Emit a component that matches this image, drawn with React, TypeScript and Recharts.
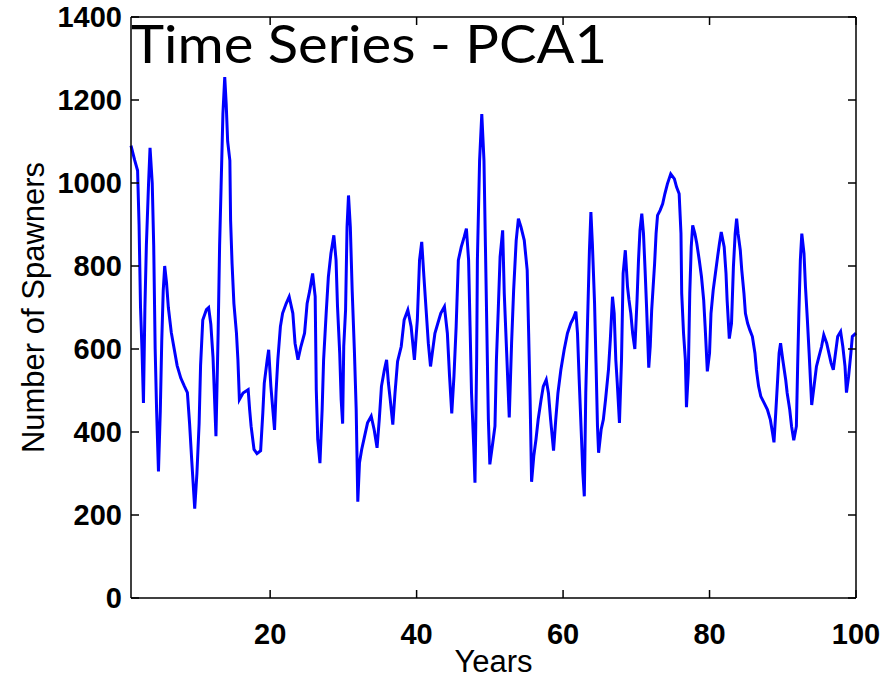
import { LineChart, Line, XAxis, YAxis } from 'recharts'

// years (x) and spawner counts (y)
const years = [
  1.0, 1.5, 1.9, 2.1, 2.3, 2.5, 2.7, 2.9, 3.1, 3.4, 3.6, 3.9, 4.1, 4.3, 4.5, 4.75, 5.0, 5.2, 5.4, 5.6,
  5.85, 6.1, 6.5, 6.9, 7.3, 7.8, 8.3, 8.7, 9.0, 9.3, 9.7, 10.0, 10.3, 10.5, 10.8, 11.3, 11.6, 11.9, 12.2, 12.6,
  12.9, 13.1, 13.3, 13.55, 13.8, 14.0, 14.2, 14.5, 14.6, 14.8, 15.05, 15.4, 15.6, 15.8, 16.3, 17.0, 17.2, 17.4, 17.8, 18.2,
  18.7, 19.0, 19.2, 19.6, 19.8, 20.1, 20.6, 20.8, 21.05, 21.4, 21.7, 22.2, 22.6, 23.1, 23.4, 23.8, 24.2, 24.7, 25.05, 25.4,
  25.8, 26.15, 26.3, 26.5, 26.8, 27.1, 27.3, 27.65, 27.95, 28.3, 28.7, 29.0, 29.2, 29.5, 29.7, 29.9, 30.05, 30.3, 30.5, 30.7,
  30.95, 31.2, 31.5, 31.75, 31.97, 32.2, 32.5, 32.9, 33.3, 33.8, 34.2, 34.6, 34.9, 35.2, 35.6, 35.9, 36.15, 36.4, 36.75, 37.05,
  37.4, 37.9, 38.3, 38.8, 39.25, 39.7, 40.1, 40.4, 40.7, 41.0, 41.3, 41.6, 41.9, 42.2, 42.5, 42.9, 43.3, 43.8, 44.2, 44.5,
  44.8, 45.1, 45.4, 45.7, 46.1, 46.5, 46.8, 47.1, 47.3, 47.5, 47.8, 47.97, 48.2, 48.3, 48.6, 48.9, 49.2, 49.4, 49.6, 49.8,
  50.0, 50.4, 50.7, 50.9, 51.15, 51.4, 51.75, 51.97, 52.3, 52.65, 52.97, 53.25, 53.6, 53.9, 54.25, 54.7, 55.1, 55.3, 55.5, 55.7,
  56.0, 56.3, 56.6, 57.0, 57.3, 57.7, 58.0, 58.3, 58.7, 59.0, 59.3, 59.7, 60.15, 60.6, 61.05, 61.4, 61.75, 61.97, 62.2, 62.45,
  62.7, 62.9, 63.1, 63.35, 63.6, 63.8, 64.0, 64.3, 64.5, 64.7, 64.85, 65.2, 65.5, 65.8, 66.2, 66.45, 66.75, 66.98, 67.2, 67.4,
  67.7, 67.98, 68.2, 68.5, 68.8, 69.0, 69.25, 69.5, 69.8, 70.1, 70.3, 70.5, 70.75, 70.98, 71.2, 71.4, 71.7, 71.9, 72.1, 72.3,
  72.5, 72.7, 72.9, 73.25, 73.6, 73.9, 74.25, 74.7, 75.2, 75.5, 75.85, 76.1, 76.2, 76.45, 76.7, 76.85, 77.1, 77.3, 77.5, 77.7,
  78.0, 78.26, 78.6, 78.9, 79.2, 79.4, 79.7, 80.0, 80.2, 80.5, 80.8, 81.1, 81.35, 81.6, 82.0, 82.25, 82.4, 82.7, 83.0, 83.26,
  83.5, 83.7, 83.9, 84.2, 84.4, 84.7, 84.9, 85.2, 85.5, 85.85, 86.2, 86.4, 86.7, 87.0, 87.45, 87.9, 88.3, 88.6, 88.8, 89.04,
  89.3, 89.5, 89.7, 90.0, 90.4, 90.6, 90.95, 91.2, 91.5, 91.86, 92.04, 92.2, 92.4, 92.6, 92.9, 93.1, 93.36, 93.6, 93.8, 93.95,
  94.27, 94.6, 94.95, 95.3, 95.6, 96.0, 96.3, 96.6, 96.9, 97.2, 97.5, 97.9, 98.2, 98.5, 98.7, 98.99, 99.3, 99.5, 100,
]

const spawners = [
  1090, 1055, 1030, 900, 700, 600, 470, 700, 850, 1000, 1085, 1000, 850, 600, 450, 305, 450, 620, 740, 800,
  760, 700, 640, 600, 560, 530, 510, 495, 420, 330, 215, 300, 420, 560, 670, 695, 700, 660, 580, 390,
  640, 850, 990, 1166, 1255, 1190, 1100, 1054, 910, 806, 710, 638, 574, 478, 494, 502, 454, 414, 358, 348,
  355, 446, 518, 574, 598, 510, 405, 494, 574, 654, 686, 710, 726, 686, 614, 574, 606, 638, 710, 740,
  782, 726, 502, 382, 325, 454, 574, 686, 774, 830, 874, 814, 702, 590, 478, 420, 606, 694, 894, 970,
  894, 742, 598, 454, 232, 326, 358, 390, 422, 438, 406, 362, 430, 510, 550, 574, 518, 478, 418, 494,
  570, 606, 670, 694, 654, 574, 670, 814, 858, 774, 694, 614, 558, 598, 638, 662, 686, 702, 638, 534,
  445, 534, 654, 814, 846, 870, 890, 814, 654, 494, 366, 278, 574, 814, 1054, 1166, 1054, 846, 638, 430,
  322, 374, 414, 574, 694, 822, 886, 734, 590, 435, 614, 742, 862, 914, 894, 862, 790, 638, 478, 280,
  342, 382, 430, 478, 510, 526, 494, 430, 355, 430, 494, 550, 598, 638, 662, 674, 690, 638, 526, 414,
  302, 245, 494, 670, 838, 930, 854, 710, 566, 414, 350, 406, 430, 478, 550, 622, 726, 686, 574, 518,
  422, 574, 782, 838, 750, 718, 686, 638, 600, 718, 814, 886, 926, 878, 790, 702, 555, 606, 694, 750,
  806, 878, 922, 934, 950, 974, 998, 1022, 1010, 990, 974, 878, 734, 638, 574, 460, 542, 734, 846, 898,
  878, 854, 814, 774, 718, 654, 546, 590, 686, 742, 782, 822, 854, 882, 846, 782, 718, 625, 662, 798,
  878, 914, 878, 838, 790, 734, 686, 662, 646, 630, 590, 550, 510, 486, 470, 454, 430, 398, 375, 446,
  526, 590, 614, 574, 526, 494, 454, 414, 380, 414, 566, 686, 814, 878, 830, 750, 670, 590, 518, 465,
  510, 558, 582, 606, 634, 614, 590, 566, 550, 590, 630, 642, 606, 558, 495, 534, 590, 630, 638,
]

const xTicks = [20, 40, 60, 80, 100]
const yTicks = [0, 200, 400, 600, 800, 1000, 1200, 1400]

const data = years.map((year, i) => ({ year, spawners: spawners[i] }))

const font = '"Liberation Sans", Arial, sans-serif'
const tickFont = { fontSize: 29, fontWeight: 'bold' as const, fontFamily: font, fill: '#000' }
const TICK = 8
const axisLine = { stroke: '#000', strokeWidth: 1.5 }

// MATLAB style: tick marks point into the plot box, labels sit outside
function LeftTick({ x, y, payload }: any) {
  return (
    <g>
      <line x1={x} y1={y} x2={x + TICK} y2={y} stroke="#000" strokeWidth={1.5} />
      <text x={x - 9} y={y} dy="0.36em" textAnchor="end" {...tickFont}>
        {payload.value}
      </text>
    </g>
  )
}

function BottomTick({ x, y, payload }: any) {
  return (
    <g>
      <line x1={x} y1={y} x2={x} y2={y - TICK} stroke="#000" strokeWidth={1.5} />
      <text x={x} y={y + 46} textAnchor="middle" {...tickFont}>
        {payload.value}
      </text>
    </g>
  )
}

function RightTick({ x, y }: any) {
  return <line x1={x} y1={y} x2={x - TICK} y2={y} stroke="#000" strokeWidth={1.5} />
}

function TopTick({ x, y }: any) {
  return <line x1={x} y1={y} x2={x} y2={y + TICK} stroke="#000" strokeWidth={1.5} />
}

export default function App() {
  return (
    <div style={{ position: 'absolute', left: 0, top: 0, width: 884, height: 679, background: '#fff' }}>
      <LineChart width={884} height={679} data={data} margin={{ top: 16, right: 27, bottom: 0, left: 0 }}>
        <XAxis
          dataKey="year"
          type="number"
          domain={[1, 100]}
          ticks={xTicks}
          height={81}
          tickSize={0}
          tickMargin={0}
          tickLine={false}
          axisLine={axisLine}
          tick={<BottomTick />}
          label={{
            value: 'Years',
            position: 'insideBottom',
            offset: 7,
            style: { fontSize: 31, fontFamily: font, fill: '#000' },
          }}
        />
        <XAxis
          xAxisId="top"
          dataKey="year"
          orientation="top"
          type="number"
          domain={[1, 100]}
          ticks={xTicks}
          height={1}
          tickSize={0}
          tickMargin={0}
          tickLine={false}
          axisLine={axisLine}
          tick={<TopTick />}
        />
        <YAxis
          type="number"
          domain={[0, 1400]}
          ticks={yTicks}
          width={131}
          tickSize={0}
          tickMargin={0}
          tickLine={false}
          axisLine={axisLine}
          tick={<LeftTick />}
          label={{
            value: 'Number of Spawners',
            angle: -90,
            position: 'insideLeft',
            offset: 33,
            style: { textAnchor: 'middle', fontSize: 31, fontFamily: font, fill: '#000' },
          }}
        />
        <YAxis
          yAxisId="right"
          orientation="right"
          type="number"
          domain={[0, 1400]}
          ticks={yTicks}
          width={1}
          tickSize={0}
          tickMargin={0}
          tickLine={false}
          axisLine={axisLine}
          tick={<RightTick />}
        />
        {/* invisible copy on the top/right axes so the box frame gets drawn */}
        <Line
          xAxisId="top"
          yAxisId="right"
          dataKey="spawners"
          stroke="none"
          dot={false}
          activeDot={false}
          isAnimationActive={false}
        />
        <Line
          type="linear"
          dataKey="spawners"
          stroke="#0000ff"
          strokeWidth={3}
          dot={false}
          isAnimationActive={false}
        />
      </LineChart>
      <svg width={884} height={679} style={{ position: 'absolute', left: 0, top: 0, pointerEvents: 'none' }}>
        <text
          x={131}
          y={63}
          fontSize={53}
          fontFamily="Lato, 'Open Sans', sans-serif"
          textLength={476}
          lengthAdjust="spacingAndGlyphs"
          fill="#000"
        >
          Time Series - PCA1
        </text>
      </svg>
    </div>
  )
}
